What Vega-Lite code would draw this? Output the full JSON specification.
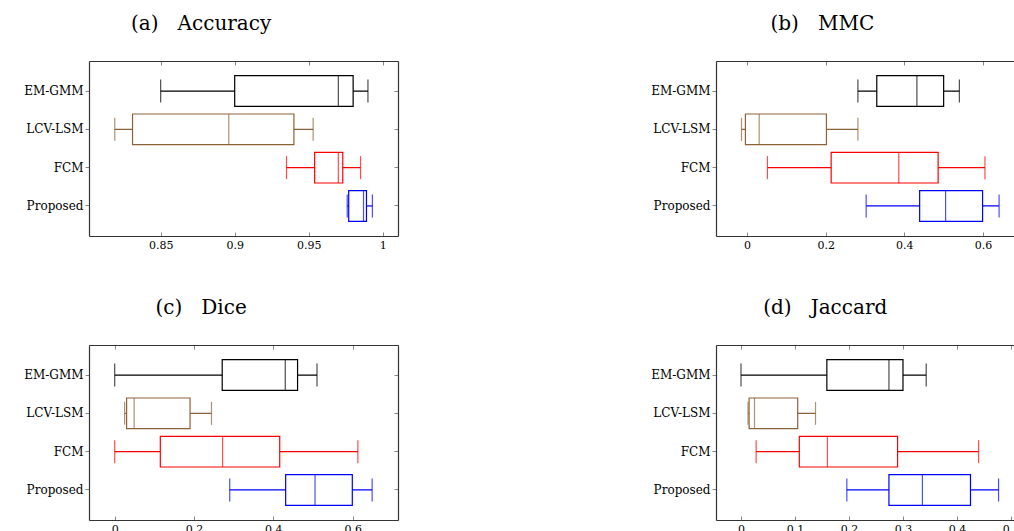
{
  "$schema": "https://vega.github.io/schema/vega-lite/v6.json",
  "padding": {"left": 23, "top": 13, "right": 0, "bottom": 0},
  "background": "#ffffff",
  "data": {"values": [
    {"metric": "Accuracy", "method": "EM-GMM", "min": 0.850, "q1": 0.900, "median": 0.970, "q3": 0.980, "max": 0.990},
    {"metric": "Accuracy", "method": "LCV-LSM", "min": 0.819, "q1": 0.831, "median": 0.896, "q3": 0.940, "max": 0.953},
    {"metric": "Accuracy", "method": "FCM", "min": 0.935, "q1": 0.954, "median": 0.970, "q3": 0.973, "max": 0.985},
    {"metric": "Accuracy", "method": "Proposed", "min": 0.976, "q1": 0.977, "median": 0.987, "q3": 0.989, "max": 0.993},
    {"metric": "MMC", "method": "EM-GMM", "min": 0.282, "q1": 0.330, "median": 0.432, "q3": 0.500, "max": 0.540},
    {"metric": "MMC", "method": "LCV-LSM", "min": -0.014, "q1": -0.004, "median": 0.031, "q3": 0.202, "max": 0.282},
    {"metric": "MMC", "method": "FCM", "min": 0.052, "q1": 0.214, "median": 0.386, "q3": 0.486, "max": 0.605},
    {"metric": "MMC", "method": "Proposed", "min": 0.303, "q1": 0.439, "median": 0.505, "q3": 0.599, "max": 0.641},
    {"metric": "Dice", "method": "EM-GMM", "min": 0.000, "q1": 0.271, "median": 0.430, "q3": 0.461, "max": 0.510},
    {"metric": "Dice", "method": "LCV-LSM", "min": 0.025, "q1": 0.030, "median": 0.049, "q3": 0.190, "max": 0.244},
    {"metric": "Dice", "method": "FCM", "min": 0.000, "q1": 0.115, "median": 0.272, "q3": 0.416, "max": 0.613},
    {"metric": "Dice", "method": "Proposed", "min": 0.290, "q1": 0.431, "median": 0.505, "q3": 0.599, "max": 0.649},
    {"metric": "Jaccard", "method": "EM-GMM", "min": 0.000, "q1": 0.159, "median": 0.274, "q3": 0.300, "max": 0.343},
    {"metric": "Jaccard", "method": "LCV-LSM", "min": 0.013, "q1": 0.015, "median": 0.025, "q3": 0.105, "max": 0.138},
    {"metric": "Jaccard", "method": "FCM", "min": 0.028, "q1": 0.108, "median": 0.160, "q3": 0.290, "max": 0.440},
    {"metric": "Jaccard", "method": "Proposed", "min": 0.196, "q1": 0.274, "median": 0.336, "q3": 0.425, "max": 0.477}
  ]},
  "columns": 2,
  "spacing": {"row": 47, "column": 251},
  "concat": [
    {
      "title": {"text": "(a)\u00a0\u00a0\u00a0Accuracy"},
      "width": 309, "height": 175,
      "transform": [{"filter": "datum.metric == 'Accuracy'"}],
      "layer": [
        {"mark": {"type": "rule", "strokeWidth": 1.2},
         "encoding": {
           "x": {"field": "min", "type": "quantitative", "title": null, "scale": {"domain": [0.8016, 1.0103], "nice": false, "zero": false},
                 "axis": {"orient": "bottom", "values": [0.85, 0.9, 0.95, 1], "format": "~g", "tickSize": -4, "labelPadding": 7, "domain": true, "labelFlush": false}},
           "x2": {"field": "max"},
           "y": {"field": "method", "type": "nominal", "title": null, "sort": ["EM-GMM", "LCV-LSM", "FCM", "Proposed"], "scale": {"domain": ["EM-GMM", "LCV-LSM", "FCM", "Proposed"], "paddingInner": 0.198, "paddingOuter": 0.384},
                 "axis": {"orient": "left", "tickSize": 4, "labelPadding": 2, "labelFontSize": 12, "domain": true}},
           "color": {"field": "method", "type": "nominal", "scale": {"domain": ["EM-GMM", "LCV-LSM", "FCM", "Proposed"], "range": ["#000000", "#8C6239", "#FF0000", "#0000FF"]}, "legend": null}
         }},
        {"mark": {"type": "bar", "fill": "#ffffff", "strokeWidth": 1.2},
         "encoding": {
           "x": {"field": "q1", "type": "quantitative", "title": null, "axis": {"orient": "top", "labels": false, "values": [0.85, 0.9, 0.95, 1], "tickSize": -4, "domain": true}},
           "x2": {"field": "q3"},
           "y": {"field": "method", "type": "nominal", "title": null, "sort": ["EM-GMM", "LCV-LSM", "FCM", "Proposed"], "axis": {"orient": "right", "labels": false, "tickSize": -4, "domain": true}},
           "stroke": {"field": "method", "type": "nominal", "scale": {"domain": ["EM-GMM", "LCV-LSM", "FCM", "Proposed"], "range": ["#000000", "#8C6239", "#FF0000", "#0000FF"]}, "legend": null}
         }},
        {"mark": {"type": "tick", "thickness": 1.2, "size": 30.7},
         "encoding": {
           "x": {"field": "median", "type": "quantitative", "axis": null},
           "y": {"field": "method", "type": "nominal", "sort": ["EM-GMM", "LCV-LSM", "FCM", "Proposed"], "axis": null},
           "color": {"field": "method", "type": "nominal", "legend": null}
         }},
        {"mark": {"type": "tick", "thickness": 1.2, "size": 23},
         "encoding": {
           "x": {"field": "min", "type": "quantitative", "axis": null},
           "y": {"field": "method", "type": "nominal", "sort": ["EM-GMM", "LCV-LSM", "FCM", "Proposed"], "axis": null},
           "color": {"field": "method", "type": "nominal", "legend": null}
         }},
        {"mark": {"type": "tick", "thickness": 1.2, "size": 23},
         "encoding": {
           "x": {"field": "max", "type": "quantitative", "axis": null},
           "y": {"field": "method", "type": "nominal", "sort": ["EM-GMM", "LCV-LSM", "FCM", "Proposed"], "axis": null},
           "color": {"field": "method", "type": "nominal", "legend": null}
         }}
      ],
      "resolve": {"axis": {"x": "independent", "y": "independent"}}
    },
    {
      "title": {"text": "(b)\u00a0\u00a0\u00a0MMC"},
      "width": 298, "height": 175,
      "transform": [{"filter": "datum.metric == 'MMC'"}],
      "layer": [
        {"mark": {"type": "rule", "strokeWidth": 1.2},
         "encoding": {
           "x": {"field": "min", "type": "quantitative", "title": null, "scale": {"domain": [-0.0788, 0.6789], "nice": false, "zero": false},
                 "axis": {"orient": "bottom", "values": [0, 0.2, 0.4, 0.6], "format": "~g", "tickSize": -4, "labelPadding": 7, "domain": true, "labelFlush": false}},
           "x2": {"field": "max"},
           "y": {"field": "method", "type": "nominal", "title": null, "sort": ["EM-GMM", "LCV-LSM", "FCM", "Proposed"], "scale": {"domain": ["EM-GMM", "LCV-LSM", "FCM", "Proposed"], "paddingInner": 0.198, "paddingOuter": 0.384},
                 "axis": {"orient": "left", "tickSize": 4, "labelPadding": 2, "labelFontSize": 12, "domain": true}},
           "color": {"field": "method", "type": "nominal", "scale": {"domain": ["EM-GMM", "LCV-LSM", "FCM", "Proposed"], "range": ["#000000", "#8C6239", "#FF0000", "#0000FF"]}, "legend": null}
         }},
        {"mark": {"type": "bar", "fill": "#ffffff", "strokeWidth": 1.2},
         "encoding": {
           "x": {"field": "q1", "type": "quantitative", "title": null, "axis": {"orient": "top", "labels": false, "values": [0, 0.2, 0.4, 0.6], "tickSize": -4, "domain": true}},
           "x2": {"field": "q3"},
           "y": {"field": "method", "type": "nominal", "title": null, "sort": ["EM-GMM", "LCV-LSM", "FCM", "Proposed"], "axis": null},
           "stroke": {"field": "method", "type": "nominal", "scale": {"domain": ["EM-GMM", "LCV-LSM", "FCM", "Proposed"], "range": ["#000000", "#8C6239", "#FF0000", "#0000FF"]}, "legend": null}
         }},
        {"mark": {"type": "tick", "thickness": 1.2, "size": 30.7},
         "encoding": {
           "x": {"field": "median", "type": "quantitative", "axis": null},
           "y": {"field": "method", "type": "nominal", "sort": ["EM-GMM", "LCV-LSM", "FCM", "Proposed"], "axis": null},
           "color": {"field": "method", "type": "nominal", "legend": null}
         }},
        {"mark": {"type": "tick", "thickness": 1.2, "size": 23},
         "encoding": {
           "x": {"field": "min", "type": "quantitative", "axis": null},
           "y": {"field": "method", "type": "nominal", "sort": ["EM-GMM", "LCV-LSM", "FCM", "Proposed"], "axis": null},
           "color": {"field": "method", "type": "nominal", "legend": null}
         }},
        {"mark": {"type": "tick", "thickness": 1.2, "size": 23},
         "encoding": {
           "x": {"field": "max", "type": "quantitative", "axis": null},
           "y": {"field": "method", "type": "nominal", "sort": ["EM-GMM", "LCV-LSM", "FCM", "Proposed"], "axis": null},
           "color": {"field": "method", "type": "nominal", "legend": null}
         }}
      ],
      "resolve": {"axis": {"x": "independent", "y": "independent"}}
    },
    {
      "title": {"text": "(c)\u00a0\u00a0\u00a0Dice"},
      "width": 309, "height": 175,
      "transform": [{"filter": "datum.metric == 'Dice'"}],
      "layer": [
        {"mark": {"type": "rule", "strokeWidth": 1.2},
         "encoding": {
           "x": {"field": "min", "type": "quantitative", "title": null, "scale": {"domain": [-0.0648, 0.7142], "nice": false, "zero": false},
                 "axis": {"orient": "bottom", "values": [0, 0.2, 0.4, 0.6], "format": "~g", "tickSize": -4, "labelPadding": 7, "domain": true, "labelFlush": false}},
           "x2": {"field": "max"},
           "y": {"field": "method", "type": "nominal", "title": null, "sort": ["EM-GMM", "LCV-LSM", "FCM", "Proposed"], "scale": {"domain": ["EM-GMM", "LCV-LSM", "FCM", "Proposed"], "paddingInner": 0.198, "paddingOuter": 0.384},
                 "axis": {"orient": "left", "tickSize": 4, "labelPadding": 2, "labelFontSize": 12, "domain": true}},
           "color": {"field": "method", "type": "nominal", "scale": {"domain": ["EM-GMM", "LCV-LSM", "FCM", "Proposed"], "range": ["#000000", "#8C6239", "#FF0000", "#0000FF"]}, "legend": null}
         }},
        {"mark": {"type": "bar", "fill": "#ffffff", "strokeWidth": 1.2},
         "encoding": {
           "x": {"field": "q1", "type": "quantitative", "title": null, "axis": {"orient": "top", "labels": false, "values": [0, 0.2, 0.4, 0.6], "tickSize": -4, "domain": true}},
           "x2": {"field": "q3"},
           "y": {"field": "method", "type": "nominal", "title": null, "sort": ["EM-GMM", "LCV-LSM", "FCM", "Proposed"], "axis": {"orient": "right", "labels": false, "tickSize": -4, "domain": true}},
           "stroke": {"field": "method", "type": "nominal", "scale": {"domain": ["EM-GMM", "LCV-LSM", "FCM", "Proposed"], "range": ["#000000", "#8C6239", "#FF0000", "#0000FF"]}, "legend": null}
         }},
        {"mark": {"type": "tick", "thickness": 1.2, "size": 30.7},
         "encoding": {
           "x": {"field": "median", "type": "quantitative", "axis": null},
           "y": {"field": "method", "type": "nominal", "sort": ["EM-GMM", "LCV-LSM", "FCM", "Proposed"], "axis": null},
           "color": {"field": "method", "type": "nominal", "legend": null}
         }},
        {"mark": {"type": "tick", "thickness": 1.2, "size": 23},
         "encoding": {
           "x": {"field": "min", "type": "quantitative", "axis": null},
           "y": {"field": "method", "type": "nominal", "sort": ["EM-GMM", "LCV-LSM", "FCM", "Proposed"], "axis": null},
           "color": {"field": "method", "type": "nominal", "legend": null}
         }},
        {"mark": {"type": "tick", "thickness": 1.2, "size": 23},
         "encoding": {
           "x": {"field": "max", "type": "quantitative", "axis": null},
           "y": {"field": "method", "type": "nominal", "sort": ["EM-GMM", "LCV-LSM", "FCM", "Proposed"], "axis": null},
           "color": {"field": "method", "type": "nominal", "legend": null}
         }}
      ],
      "resolve": {"axis": {"x": "independent", "y": "independent"}}
    },
    {
      "title": {"text": "(d)\u00a0\u00a0\u00a0Jaccard"},
      "width": 298, "height": 175,
      "transform": [{"filter": "datum.metric == 'Jaccard'"}],
      "layer": [
        {"mark": {"type": "rule", "strokeWidth": 1.2},
         "encoding": {
           "x": {"field": "min", "type": "quantitative", "title": null, "scale": {"domain": [-0.0463, 0.5056], "nice": false, "zero": false},
                 "axis": {"orient": "bottom", "values": [0, 0.1, 0.2, 0.3, 0.4, 0.5], "format": "~g", "tickSize": -4, "labelPadding": 7, "domain": true, "labelFlush": false}},
           "x2": {"field": "max"},
           "y": {"field": "method", "type": "nominal", "title": null, "sort": ["EM-GMM", "LCV-LSM", "FCM", "Proposed"], "scale": {"domain": ["EM-GMM", "LCV-LSM", "FCM", "Proposed"], "paddingInner": 0.198, "paddingOuter": 0.384},
                 "axis": {"orient": "left", "tickSize": 4, "labelPadding": 2, "labelFontSize": 12, "domain": true}},
           "color": {"field": "method", "type": "nominal", "scale": {"domain": ["EM-GMM", "LCV-LSM", "FCM", "Proposed"], "range": ["#000000", "#8C6239", "#FF0000", "#0000FF"]}, "legend": null}
         }},
        {"mark": {"type": "bar", "fill": "#ffffff", "strokeWidth": 1.2},
         "encoding": {
           "x": {"field": "q1", "type": "quantitative", "title": null, "axis": {"orient": "top", "labels": false, "values": [0, 0.1, 0.2, 0.3, 0.4, 0.5], "tickSize": -4, "domain": true}},
           "x2": {"field": "q3"},
           "y": {"field": "method", "type": "nominal", "title": null, "sort": ["EM-GMM", "LCV-LSM", "FCM", "Proposed"], "axis": null},
           "stroke": {"field": "method", "type": "nominal", "scale": {"domain": ["EM-GMM", "LCV-LSM", "FCM", "Proposed"], "range": ["#000000", "#8C6239", "#FF0000", "#0000FF"]}, "legend": null}
         }},
        {"mark": {"type": "tick", "thickness": 1.2, "size": 30.7},
         "encoding": {
           "x": {"field": "median", "type": "quantitative", "axis": null},
           "y": {"field": "method", "type": "nominal", "sort": ["EM-GMM", "LCV-LSM", "FCM", "Proposed"], "axis": null},
           "color": {"field": "method", "type": "nominal", "legend": null}
         }},
        {"mark": {"type": "tick", "thickness": 1.2, "size": 23},
         "encoding": {
           "x": {"field": "min", "type": "quantitative", "axis": null},
           "y": {"field": "method", "type": "nominal", "sort": ["EM-GMM", "LCV-LSM", "FCM", "Proposed"], "axis": null},
           "color": {"field": "method", "type": "nominal", "legend": null}
         }},
        {"mark": {"type": "tick", "thickness": 1.2, "size": 23},
         "encoding": {
           "x": {"field": "max", "type": "quantitative", "axis": null},
           "y": {"field": "method", "type": "nominal", "sort": ["EM-GMM", "LCV-LSM", "FCM", "Proposed"], "axis": null},
           "color": {"field": "method", "type": "nominal", "legend": null}
         }}
      ],
      "resolve": {"axis": {"x": "independent", "y": "independent"}}
    }
  ],
  "config": {
    "view": {"stroke": null},
    "axis": {"labelFont": "DejaVu Serif", "labelFontSize": 11, "labelColor": "#000000", "tickColor": "#888888", "tickWidth": 1, "domainColor": "#333333", "domainWidth": 1.2, "grid": false},
    "title": {"font": "DejaVu Serif", "fontSize": 20, "fontWeight": "normal", "color": "#000000", "anchor": "middle", "frame": "bounds", "baseline": "alphabetic", "offset": 27, "dx": -10}
  }
}
